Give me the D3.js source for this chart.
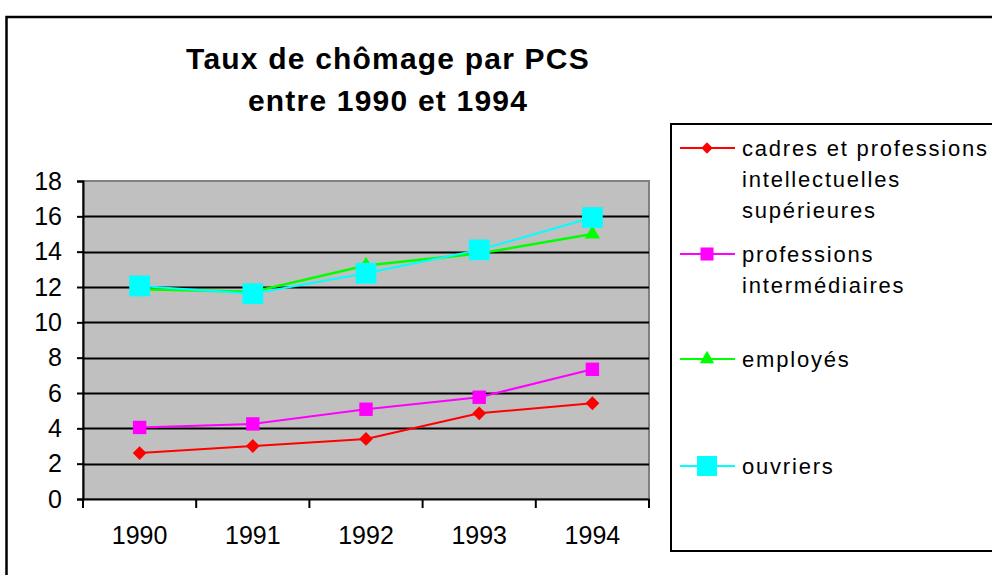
<!DOCTYPE html>
<html>
<head>
<meta charset="utf-8">
<script src="https://cdn.jsdelivr.net/npm/d3@7"></script>
<style>
  html, body { margin: 0; padding: 0; background: #fff; }
  svg { display: block; font-family: "Liberation Sans", Arial, sans-serif; }
</style>
</head>
<body>
<div id="chart"></div>
<script>
// données
const years = ['1990', '1991', '1992', '1993', '1994'];
const cadres = [2.6, 3.0, 3.4, 4.85, 5.42];
const intermediaires = [4.05, 4.25, 5.08, 5.76, 7.34];
const employes = [11.87, 11.73, 13.22, 13.9, 15.0];
const ouvriers = [12.06, 11.62, 12.78, 14.1, 15.93];
const yTicks = [0, 2, 4, 6, 8, 10, 12, 14, 16, 18];

const series = [
  { name: ['cadres et professions', 'intellectuelles', 'supérieures'], values: cadres, color: '#ff0000', symbol: d3.symbolSquare, rot: 45, size: 95, lsize: 65, lw: 2 },
  { name: ['professions', 'intermédiaires'], values: intermediaires, color: '#ff00ff', symbol: d3.symbolSquare, rot: 0, size: 180, lsize: 170, lw: 2 },
  { name: ['employés'], values: employes, color: '#00ff00', symbol: d3.symbolTriangle, rot: 0, size: 100, lsize: 90, lw: 2.5 },
  { name: ['ouvriers'], values: ouvriers, color: '#00ffff', symbol: d3.symbolSquare, rot: 0, size: 430, lsize: 400, lw: 2 }
];

const W = 992, H = 575;
const plot = { left: 83, right: 649, top: 181, bottom: 499 };

const svg = d3.select('#chart').append('svg')
  .attr('width', W).attr('height', H);

// cadre extérieur
svg.append('rect')
  .attr('x', 6.5).attr('y', 17).attr('width', 1000).attr('height', 600)
  .attr('fill', '#fff').attr('stroke', '#000').attr('stroke-width', 2.5);

// titre
const titleLines = ['Taux de chômage par PCS', 'entre 1990 et 1994'];
svg.append('g').selectAll('text')
  .data(titleLines)
  .join('text')
  .attr('x', 388).attr('y', (d, i) => 69 + i * 42)
  .attr('text-anchor', 'middle')
  .style('font-size', '30px').style('font-weight', 'bold').style('letter-spacing', '1.2px')
  .text(d => d);

const x = d3.scaleBand().domain(years).range([plot.left, plot.right]);
const y = d3.scaleLinear().domain([0, 18]).range([plot.bottom, plot.top]);

// fond gris de la zone de tracé
svg.append('rect')
  .attr('x', plot.left).attr('y', plot.top)
  .attr('width', plot.right - plot.left).attr('height', plot.bottom - plot.top)
  .attr('fill', '#c0c0c0').attr('stroke', '#808080').attr('stroke-width', 2);

// quadrillage
svg.append('g').selectAll('line')
  .data(yTicks.filter(t => t > 0 && t < 18))
  .join('line')
  .attr('x1', plot.left).attr('x2', plot.right)
  .attr('y1', d => Math.round(y(d)) + 0.5).attr('y2', d => Math.round(y(d)) + 0.5)
  .attr('stroke', '#000').attr('stroke-width', 2);

// axe Y
const yAxis = svg.append('g')
  .attr('transform', `translate(${plot.left},0)`)
  .call(d3.axisLeft(y).tickValues(yTicks).tickSize(6).tickPadding(15));
yAxis.select('.domain').attr('stroke-width', 2);
yAxis.selectAll('.tick line').attr('stroke-width', 2);
yAxis.selectAll('text').style('font-size', '25px').style('font-family', '"Liberation Sans", Arial, sans-serif');

// axe X
const xAxis = svg.append('g')
  .attr('transform', `translate(0,${plot.bottom})`)
  .call(d3.axisBottom(x).tickSize(0).tickPadding(27));
xAxis.select('.domain').attr('stroke-width', 2);
xAxis.selectAll('text').style('font-size', '25px').style('font-family', '"Liberation Sans", Arial, sans-serif');
// graduations entre les catégories
xAxis.selectAll('line.sep')
  .data(years.map(d => x(d)).concat([x.range()[1]]))
  .join('line').attr('class', 'sep')
  .attr('x1', d => d).attr('x2', d => d)
  .attr('y1', 0).attr('y2', 9)
  .attr('stroke', '#000').attr('stroke-width', 2);

const cx = d => x(d) + x.bandwidth() / 2;

// courbes
series.forEach(s => {
  const line = d3.line().x((v, i) => cx(years[i])).y(v => y(v));
  svg.append('path')
    .attr('d', line(s.values))
    .attr('fill', 'none').attr('stroke', s.color).attr('stroke-width', s.lw);
});
series.forEach(s => {
  svg.append('g').selectAll('path')
    .data(s.values)
    .join('path')
    .attr('transform', (v, i) => `translate(${cx(years[i])},${y(v)}) rotate(${s.rot})`)
    .attr('d', d3.symbol().type(s.symbol).size(s.size))
    .attr('fill', s.color);
});

// légende
const legend = svg.append('g');
legend.append('rect')
  .attr('x', 671).attr('y', 124).attr('width', 400).attr('height', 427)
  .attr('fill', '#fff').attr('stroke', '#000').attr('stroke-width', 2);

const legendY = [148, 254, 359, 466];
series.forEach((s, i) => {
  const ly = legendY[i];
  legend.append('line')
    .attr('x1', 680).attr('x2', 735).attr('y1', ly).attr('y2', ly)
    .attr('stroke', s.color).attr('stroke-width', 2);
  legend.append('path')
    .attr('transform', `translate(707,${ly}) rotate(${s.rot})`)
    .attr('d', d3.symbol().type(s.symbol).size(s.lsize))
    .attr('fill', s.color);
  s.name.forEach((t, j) => {
    legend.append('text')
      .attr('x', 742).attr('y', ly + 8 + j * 31)
      .style('font-size', '22px').style('letter-spacing', '1.8px')
      .text(t);
  });
});
</script>
</body>
</html>
